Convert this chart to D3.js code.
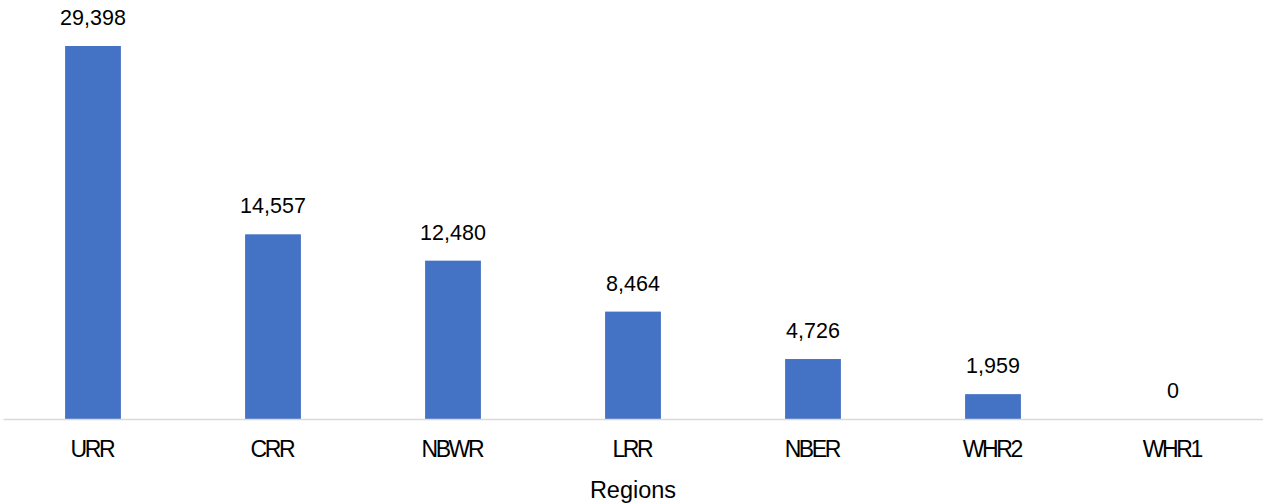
<!DOCTYPE html>
<html>
<head>
<meta charset="utf-8">
<script src="https://cdn.jsdelivr.net/npm/d3@7"></script>
<style>
  html, body { margin: 0; padding: 0; background: #fff; }
  svg { display: block; font-family: "Liberation Sans", Arial, sans-serif; }
</style>
</head>
<body>
<svg id="chart" width="1263" height="504"></svg>
<script>
// Regional totals
const categories = ["URR", "CRR", "NBWR", "LRR", "NBER", "WHR2", "WHR1"];
const values = [29398, 14557, 12480, 8464, 4726, 1959, 0];
const axisTitle = "Regions";

const width = 1263, height = 504;
const margin = { left: 3, right: 0, top: 46, baseline: 419 };

const svg = d3.select("#chart");

const x = d3.scaleBand()
  .domain(categories)
  .range([margin.left, width - margin.right])
  .paddingInner(0.69)
  .paddingOuter(0.345);

const y = d3.scaleLinear()
  .domain([0, d3.max(values)])
  .range([margin.baseline, margin.top]);

const fmt = d3.format(",");

// bars
svg.append("g")
  .selectAll("rect")
  .data(values)
  .join("rect")
  .attr("x", (d, i) => x(categories[i]))
  .attr("y", d => y(d))
  .attr("width", x.bandwidth())
  .attr("height", d => y(0) - y(d))
  .attr("fill", "#4472C4");

// baseline axis
const axis = d3.axisBottom(x).tickSize(0).tickPadding(0);
const gx = svg.append("g")
  .attr("transform", `translate(0,${margin.baseline})`)
  .call(axis);
gx.select(".domain").attr("stroke", "#d9d9d9").attr("stroke-width", 1.5);
gx.selectAll(".tick text")
  .attr("y", 38)
  .attr("dy", null)
  .attr("dx", "-1.2px")
  .attr("font-size", 23)
  .attr("font-family", "Liberation Sans, Arial, sans-serif")
  .attr("letter-spacing", "-2.4px")
  .attr("fill", "#000");

// value labels
svg.append("g")
  .selectAll("text")
  .data(values)
  .join("text")
  .attr("x", (d, i) => x(categories[i]) + x.bandwidth() / 2)
  .attr("y", d => y(d) - 21)
  .attr("text-anchor", "middle")
  .attr("font-size", 21.5)
  .attr("fill", "#000")
  .text(d => fmt(d));

// axis title
svg.append("text")
  .attr("x", x(categories[3]) + x.bandwidth() / 2)
  .attr("y", 498)
  .attr("text-anchor", "middle")
  .attr("font-size", 23.5)
  .attr("fill", "#000")
  .text(axisTitle);
</script>
</body>
</html>
